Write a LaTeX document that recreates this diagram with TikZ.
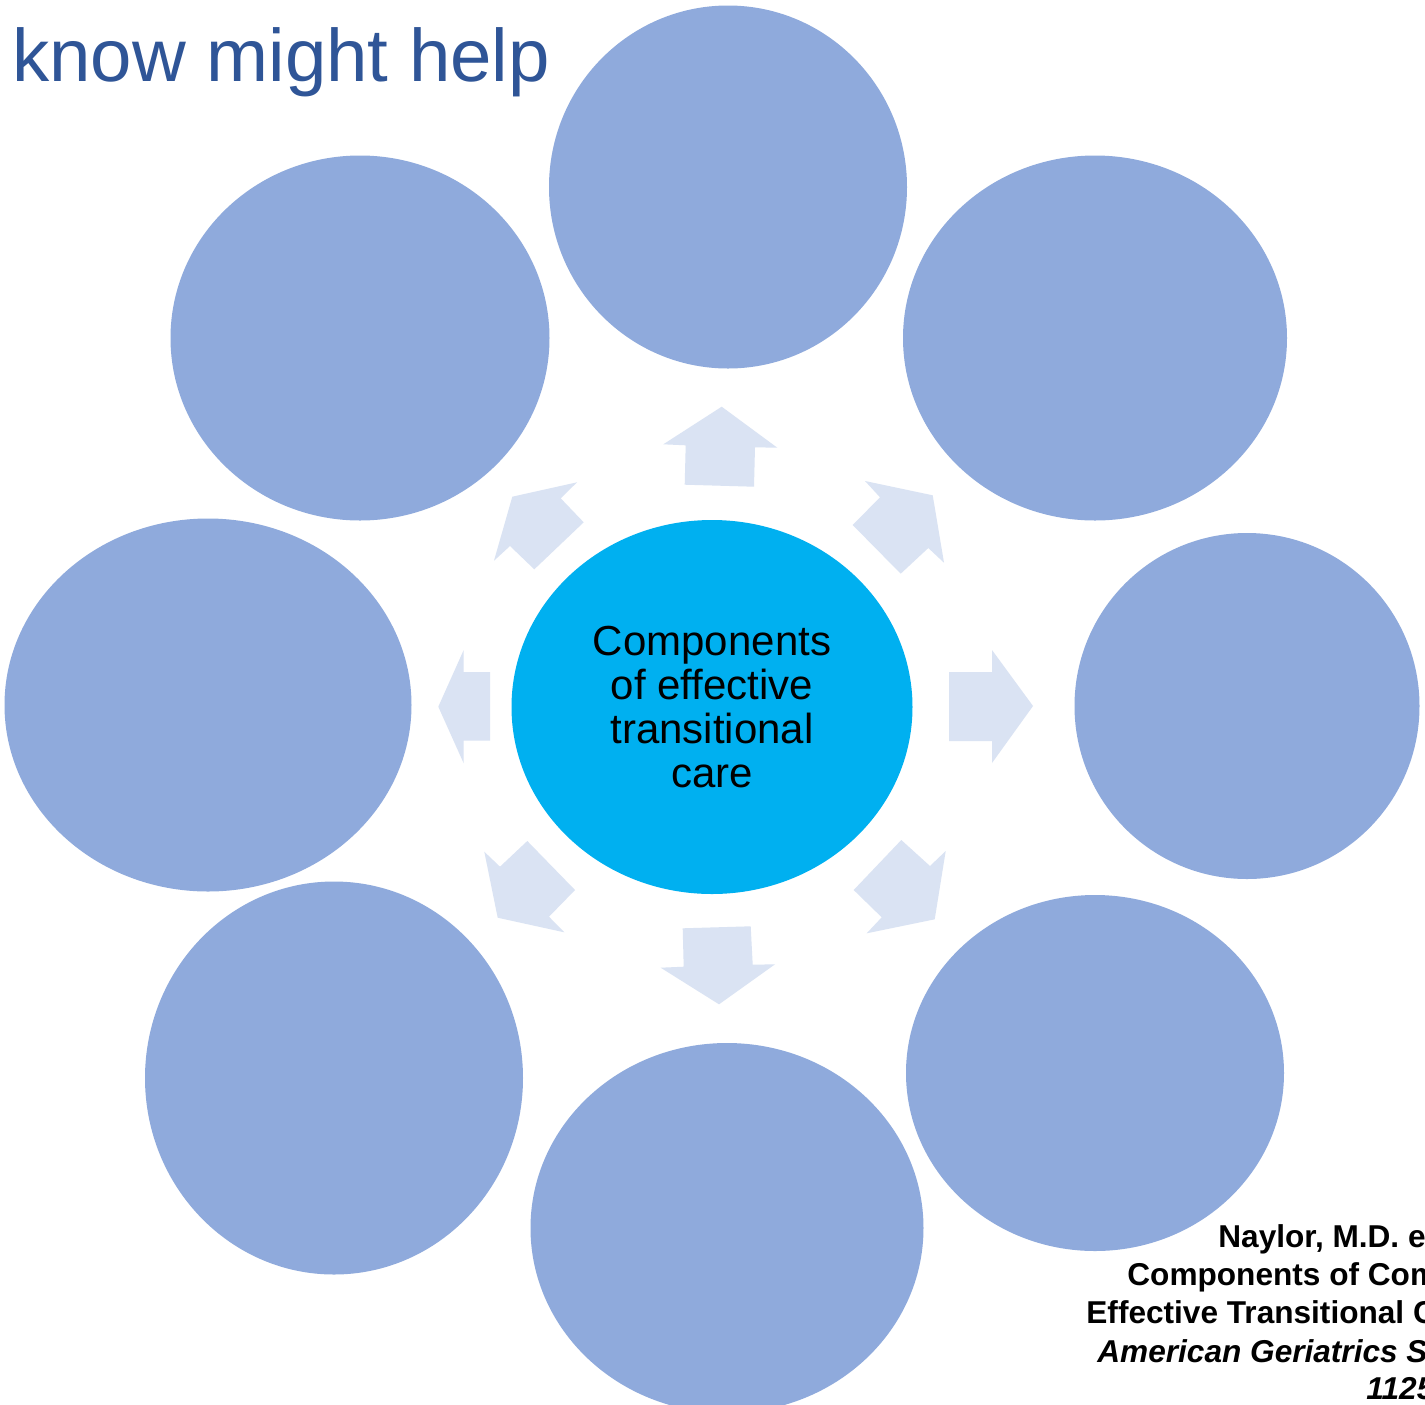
\documentclass[tikz,border=0pt]{standalone}
\usepackage{fontspec}
\setmainfont{Liberation Sans}
\usetikzlibrary{shapes.geometric}
\definecolor{bubcol}{HTML}{8FAADC}
\definecolor{hubcol}{HTML}{00B0F0}
\definecolor{arrcol}{HTML}{DAE3F3}
\definecolor{titlecol}{HTML}{2F5597}
\tikzset{
  bub/.style={ellipse, fill=bubcol, draw=none, inner sep=0pt},
  hub/.style={ellipse, fill=hubcol, draw=none, inner sep=0pt, align=center,
    font=\fontsize{21pt}{22pt}\selectfont},
  blockarrow/.style={fill=arrcol, draw=none},
  reftext/.style={anchor=base west, inner sep=0pt, font=\fontsize{15.8pt}{19pt}\selectfont\bfseries},
  refital/.style={reftext, font=\fontsize{15.8pt}{19pt}\selectfont\bfseries\itshape}
}
\begin{document}
\begin{tikzpicture}[x=0.5pt, y=-0.5pt]
\clip (0,0) rectangle (1425,1404);
\fill[white] (0,0) rectangle (1425,1404);
% outer bubbles
\node[bub, minimum width=179pt, minimum height=181.5pt] (top) at (728,187) {};
\node[bub, minimum width=189.5pt, minimum height=182.5pt] (ul) at (360,338) {};
\node[bub, minimum width=192pt, minimum height=182.5pt] (ur) at (1095,338) {};
\node[bub, minimum width=172.5pt, minimum height=173pt] (rt) at (1247,706) {};
\node[bub, minimum width=203.5pt, minimum height=186.5pt] (lf) at (208,705) {};
\node[bub, minimum width=189pt, minimum height=196.5pt] (ll) at (334,1078) {};
\node[bub, minimum width=196.5pt, minimum height=185pt] (bt) at (727,1228) {};
\node[bub, minimum width=189pt, minimum height=178pt] (lr) at (1095,1073) {};
% hub
\node[hub, minimum width=200.5pt, minimum height=187pt] (hub) at (712,707)
  {Components\\of effective\\transitional\\care};
% block arrows
\fill[blockarrow] (721.7,406.7) -- (777.3,447.7) -- (755,447.3) -- (754,486.7) -- (684.7,484.7) -- (685.7,445.3) -- (663.3,444.3) -- cycle;
\fill[blockarrow] (932.7,495.3) -- (944,562.7) -- (928.3,548) -- (900.7,573.7) -- (852.7,525) -- (880,497.3) -- (865,481) -- cycle;
\fill[blockarrow] (1033,706) -- (992,763) -- (992,741) -- (949,741) -- (949,672) -- (992,672) -- (992,650) -- cycle;
\fill[blockarrow] (934.7,919.3) -- (866.7,933.3) -- (881.7,917.3) -- (853.7,890) -- (901.3,840) -- (930,866) -- (945.7,851) -- cycle;
\fill[blockarrow] (719,1004.3) -- (660.7,967.7) -- (683.7,966.7) -- (682.7,928.3) -- (750.7,926.3) -- (752.7,964.7) -- (775,964.3) -- cycle;
\fill[blockarrow] (497.7,917.7) -- (484.3,851.7) -- (500,866.7) -- (527.3,841) -- (575,890) -- (549,916.7) -- (564.3,932.3) -- cycle;
\fill[blockarrow] (438.3,706.7) -- (463.7,650) -- (463.7,672) -- (490,672) -- (490,740.7) -- (463.7,740.7) -- (463.7,763.3) -- cycle;
\fill[blockarrow] (512.3,496.7) -- (577,482.3) -- (560.7,498.3) -- (583.7,522.3) -- (534.3,569.3) -- (510,546) -- (494,560.7) -- cycle;
% title
\node[anchor=base west, inner sep=0pt, text=titlecol, font=\fontsize{37.2pt}{44pt}\selectfont] (title) at (12,81) {know might help};
% reference (cut off at the right edge, as in the original)
\node[reftext] (r1) at (1218,1247) {Naylor, M.D. e};
\node[reftext] (r2) at (1127,1285) {Components of Com};
\node[reftext] (r3) at (1086,1323) {Effective Transitional C};
\node[refital] (r4) at (1097,1362) {American Geriatrics S};
\node[refital] (r5) at (1366,1399) {1125};
\end{tikzpicture}
\end{document}
